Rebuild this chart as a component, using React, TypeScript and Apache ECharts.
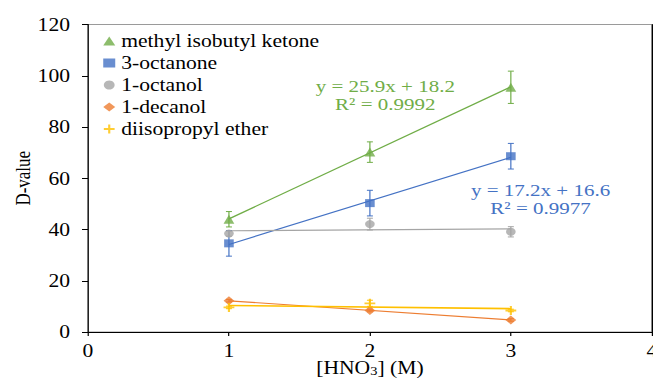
import React, { useEffect, useRef } from "react";
import * as echarts from "echarts";

const xValues = [1, 2, 3];
const seriesNames = ["methyl isobutyl ketone", "3-octanone", "1-octanol", "1-decanol", "diisopropyl ether"];
const mibk = [44.0, 70.2, 95.5];
const mibkErr = [3.0, 4.0, 6.3];
const octanone = [34.6, 50.3, 68.6];
const octanoneErr = [5.0, 5.0, 5.0];
const octanol = [38.4, 42.1, 39.1];
const octanolErr = [1.0, 2.3, 2.0];
const decanol = [12.2, 8.4, 4.7];
const decanolErr = [0.5, 0.5, 0.5];
const ether = [9.6, 11.2, 8.4];
const etherErr = [0.5, 1.2, 0.5];
const xTicks = [0, 1, 2, 3, 4];
const yTicks = [0, 20, 40, 60, 80, 100, 120];

const colors = ["#70AD47", "#4472C4", "#A5A5A5", "#ED7D31", "#FFC000"];
const FONT = "'Liberation Serif', 'Times New Roman', serif";
const W = 544;
const H = 381;
const SX = 653 / W;

const plusPath = "path://M4,0 H6 V4 H10 V6 H6 V10 H4 V6 H0 V4 H4 Z";

function fit(ys: number[]) {
  const n = xValues.length;
  const mx = xValues.reduce((a, b) => a + b, 0) / n;
  const my = ys.reduce((a, b) => a + b, 0) / n;
  let sxy = 0;
  let sxx = 0;
  for (let i = 0; i < n; i++) {
    sxy += (xValues[i] - mx) * (ys[i] - my);
    sxx += (xValues[i] - mx) * (xValues[i] - mx);
  }
  const b = sxy / sxx;
  const a = my - b * mx;
  const x0 = xValues[0];
  const x1 = xValues[n - 1];
  return [
    [x0, a + b * x0],
    [x1, a + b * x1],
  ];
}

export default function App() {
  const ref = useRef<HTMLDivElement>(null);
  useEffect(() => {
    if (!ref.current) return;
    const chart = echarts.init(ref.current, undefined, { renderer: "svg", width: W, height: H });
    const values = [mibk, octanone, octanol, decanol, ether];
    const errs = [mibkErr, octanoneErr, octanolErr, decanolErr, etherErr];
    const symbols = ["triangle", "rect", "circle", "diamond", plusPath];
    const sizes = [9, 8, 8, 9, 9];
    const series: any[] = [];
    values.forEach((vals, i) => {
      series.push({
        name: seriesNames[i] + " trend",
        type: "line",
        data: fit(vals),
        showSymbol: false,
        symbol: "none",
        silent: true,
        lineStyle: { color: colors[i], width: i === 4 ? 1.6 : 1.2 },
        z: 2,
      });
      series.push({
        name: seriesNames[i] + " err",
        type: "custom",
        silent: true,
        z: 3,
        data: vals.map((v, k) => [xValues[k], v, v + errs[i][k], v - errs[i][k]]),
        renderItem: (params: any, api: any) => {
          const x = api.value(0);
          const hi = api.coord([x, api.value(2)]);
          const lo = api.coord([x, api.value(3)]);
          const c = 2.5;
          const st = { stroke: colors[i], lineWidth: 1 };
          return {
            type: "group",
            children: [
              { type: "line", shape: { x1: hi[0], y1: hi[1], x2: lo[0], y2: lo[1] }, style: st },
              { type: "line", shape: { x1: hi[0] - c, y1: hi[1], x2: hi[0] + c, y2: hi[1] }, style: st },
              { type: "line", shape: { x1: lo[0] - c, y1: lo[1], x2: lo[0] + c, y2: lo[1] }, style: st },
            ],
          };
        },
      });
      series.push({
        name: seriesNames[i],
        type: "scatter",
        data: vals.map((v, k) => [xValues[k], v]),
        symbol: symbols[i],
        symbolSize: sizes[i],
        itemStyle: { color: colors[i] },
        z: 4,
      });
    });

    chart.setOption({
      animation: false,
      grid: {
        left: 73.3,
        right: 1,
        top: 24.5,
        bottom: 49,
        containLabel: false,
        outerBoundsMode: "none",
        show: true,
        borderColor: "#9a9a9a",
        borderWidth: 1,
        backgroundColor: "transparent",
      },
      legend: {
        orient: "vertical",
        left: 81,
        top: 27,
        itemWidth: 10,
        itemHeight: 9,
        itemGap: 4,
        data: seriesNames,
        textStyle: { fontFamily: FONT, fontSize: 18, color: "#000", lineHeight: 18 },
      },
      xAxis: {
        type: "value",
        min: xTicks[0],
        max: xTicks[xTicks.length - 1],
        interval: 1,
        name: "{n|[HNO}{s|3}{n|] (M)}",
        nameLocation: "middle",
        nameGap: 27,
        nameMoveOverlap: false,
        nameTextStyle: {
          rich: {
            n: { fontFamily: FONT, fontSize: 18, color: "#000", lineHeight: 18, verticalAlign: "top" },
            s: { fontFamily: FONT, fontSize: 12, color: "#000", lineHeight: 12, verticalAlign: "bottom", padding: [8, 0, 0, 0] },
          },
        },
        axisLine: { show: true, lineStyle: { color: "#000", width: 1 } },
        axisTick: { show: true, length: 4, lineStyle: { color: "#000" } },
        axisLabel: { fontFamily: FONT, fontSize: 18, color: "#000", margin: 10 },
        splitLine: { show: false },
      },
      yAxis: [
        {
          type: "value",
          min: yTicks[0],
          max: yTicks[yTicks.length - 1],
          interval: 20,
          name: "D-value",
          nameLocation: "middle",
          nameRotate: 90,
          nameGap: 46,
          nameMoveOverlap: false,
          nameTextStyle: { fontFamily: FONT, fontSize: 17, color: "#000" },
          axisLine: { show: true, lineStyle: { color: "#000", width: 1 } },
          axisTick: { show: true, length: 5, lineStyle: { color: "#000" } },
          axisLabel: { fontFamily: FONT, fontSize: 18, color: "#000", margin: 15 },
          splitLine: { show: false },
        },
        {
          type: "value",
          position: "right",
          min: yTicks[0],
          max: yTicks[yTicks.length - 1],
          interval: 20,
          axisLine: { show: true, lineStyle: { color: "#000", width: 1 } },
          axisTick: { show: false },
          axisLabel: { show: false },
          splitLine: { show: false },
        },
      ],
      graphic: [
        {
          type: "text",
          x: 321,
          y: 95,
          style: { text: "y = 25.9x + 18.2\nR² = 0.9992", fontFamily: FONT, fontSize: 17.5, lineHeight: 18, fill: colors[0], align: "center", verticalAlign: "middle" },
        },
        {
          type: "text",
          x: 450.3,
          y: 199,
          style: { text: "y = 17.2x + 16.6\nR² = 0.9977", fontFamily: FONT, fontSize: 17.5, lineHeight: 18, fill: colors[1], align: "center", verticalAlign: "middle" },
        },
      ],
      series,
    });
    return () => chart.dispose();
  }, []);

  return (
    <div style={{ position: "fixed", left: 0, top: 0, width: 653, height: 381, overflow: "hidden", background: "#fff" }}>
      <div ref={ref} style={{ width: W, height: H, transform: `scaleX(${SX})`, transformOrigin: "0 0" }} />
    </div>
  );
}
